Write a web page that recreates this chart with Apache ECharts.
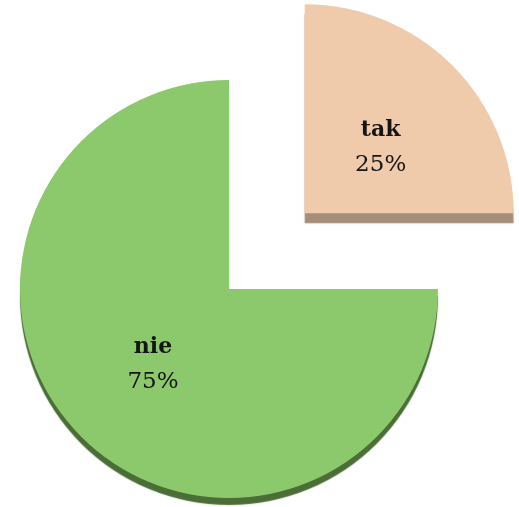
<!DOCTYPE html>
<html>
<head>
<meta charset="utf-8">
<script src="https://cdn.jsdelivr.net/npm/echarts@6/dist/echarts.min.js"></script>
<style>
	html, body { margin: 0; padding: 0; background: #fff; }
	#chart { width: 519px; height: 507px; }
</style>
</head>
<body>
<div id="chart"></div>
<script>
// dane wykresu
var names = ['tak', 'nie'];
var values = [25, 75];
var faceColors = ['#f0cbab', '#8cc86c'];
var sideColors = ['#a58d7a', '#4a6e35'];

var pieData = [];
for (var i = 0; i < names.length; i++) {
	var item = {
		name: names[i],
		value: values[i],
		selected: i == 0, // "tak" wysunięte
		itemStyle: {
			color: faceColors[i],
			shadowColor: sideColors[i],
			shadowBlur: 1,
			shadowOffsetY: i == 0 ? 10 : 7
		}
	};
	if (i == 0) {
		item.label = { padding: [20, 0, 0, 0] };
	}
	pieData.push(item);
}

var myChart = echarts.init(document.getElementById('chart'));
var option = {
	animation: false,
	series: [
		{
			type: 'pie',
			center: [229, 289],
			radius: 209,
			startAngle: 90,
			clockwise: true,
			selectedMode: 'single',
			selectedOffset: 107,
			avoidLabelOverlap: false,
			data: pieData,
			label: {
				show: true,
				position: 'inside',
				formatter: '{n|{b}}\n{p|{d}%}',
				rich: {
					n: {
						fontFamily: 'DejaVu Serif',
						fontWeight: 'bold',
						fontSize: 22,
						color: '#151515',
						lineHeight: 35
					},
					p: {
						fontFamily: 'DejaVu Serif',
						fontSize: 23,
						color: '#151515',
						lineHeight: 35
					}
				}
			},
			labelLine: { show: false },
			emphasis: { disabled: true }
		}
	]
};
myChart.setOption(option);
</script>
</body>
</html>
